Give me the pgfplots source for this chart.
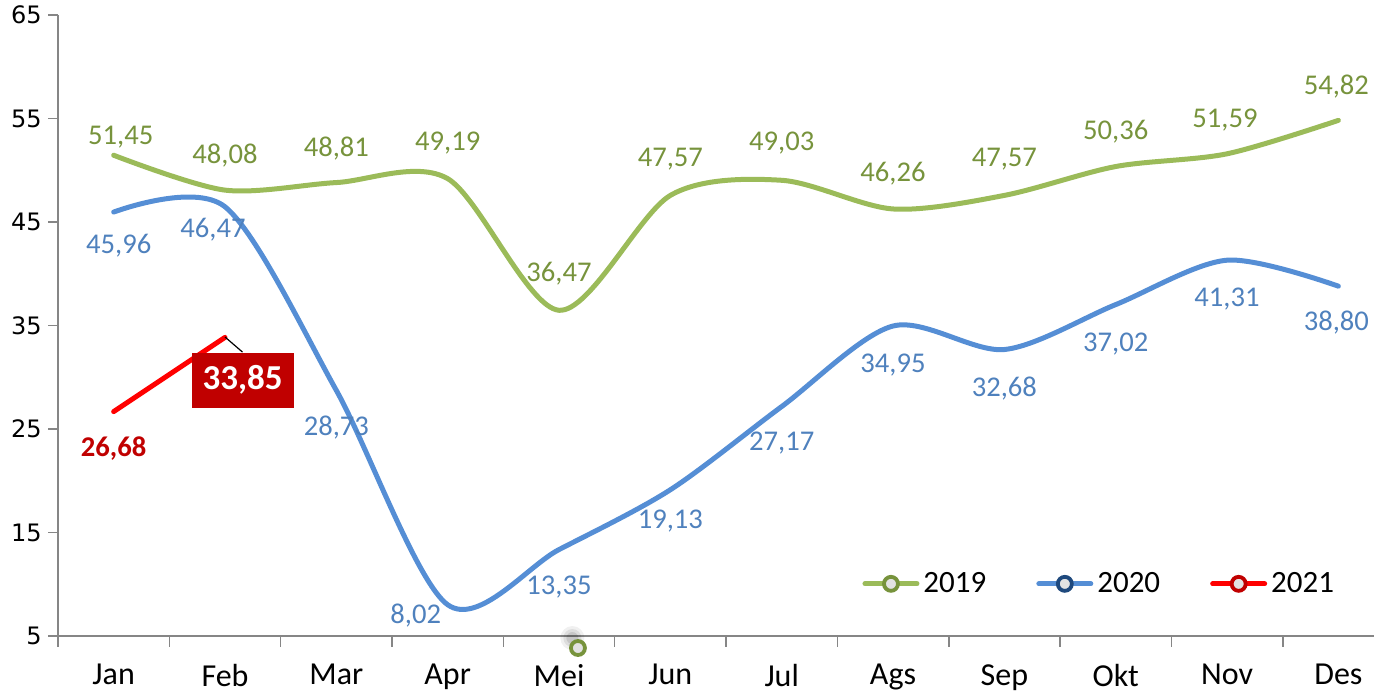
\documentclass[border=0pt]{standalone}
\usepackage{pgfplots}
\pgfplotsset{compat=1.18}
\usepackage{pgfplotstable}
\usepackage{fontspec}
\setmainfont{Carlito}
\newfontfamily\tickfont{DejaVu Sans}

\definecolor{grn}{HTML}{9BBB59}
\definecolor{grnd}{HTML}{77933C}
\definecolor{blu}{HTML}{558ED5}
\definecolor{blud}{HTML}{4F81BD}
\definecolor{bluk}{HTML}{1F497D}
\definecolor{redd}{HTML}{C00000}
\definecolor{axgray}{HTML}{868686}
\definecolor{mkfill}{HTML}{E2E2E2}

% month index, value, label offset (pt)
\pgfplotstableread{
x y dx dy
0 51.45 3.5 9.1
1 48.08 0 17.5
2 48.81 0 16.8
3 49.19 0 17.8
4 36.47 0 18.2
5 47.57 0 18.2
6 49.03 0 18.6
7 46.26 0 17.5
8 47.57 0 18.2
9 50.36 0 17.2
10 51.59 -1 17
11 54.82 -1 16.7
}\dataA
\pgfplotstableread{
x y dx dy
0 45.96 2.5 -17
1 46.47 -6 -11.6
2 28.73 0 -18.8
3 8.02 -16 -5.2
4 13.35 0 -18.7
5 19.13 0 -15.6
6 27.17 0 -18.3
7 34.95 0 -19.5
8 32.68 0 -19.3
9 37.02 0 -19.7
10 41.31 0 -19.4
11 38.80 -1 -18.4
}\dataB
\pgfplotstableread{
x y dx dy
0 26.68 0 -18.7
1 33.85 8.75 -21.3
}\dataC

\pgfplotsset{
  lbl/.style={
    point meta=explicit,
    nodes near coords={\pgfmathprintnumber[fixed,fixed zerofill,precision=2,use comma]{\pgfplotspointmeta}},
    visualization depends on={\thisrow{dx}\as\lx},
    visualization depends on={\thisrow{dy}\as\ly},
    every node near coord/.append style={anchor=center, xshift=\lx pt, yshift=\ly pt,
      font=\fontsize{14.3}{16}\selectfont, text=#1}},
  lgimg/.style 2 args={legend image code/.code={
      \draw[#1, line width=2.5pt, line cap=round] (0pt,0pt) -- (26pt,0pt);
      \draw[#2, line width=1.9pt, fill=mkfill] (13pt,0pt) circle (3.5pt);}},
}

\begin{document}
\begin{tikzpicture}
\path[use as bounding box] (-29pt,-29pt) rectangle (658pt,318pt);
\begin{axis}[
  at={(0,0)}, anchor=south west,
  width=658pt, height=310.5pt, scale only axis,
  xmin=-0.5, xmax=11.32, ymin=5, ymax=65,
  axis lines*=left,
  axis line style={axgray, line width=0.8pt},
  clip=false,
  xtick={0,...,11},
  xticklabels={Jan,Feb,Mar,Apr,Mei,Jun,Jul,Ags,Sep,Okt,Nov,Des},
  minor xtick={-0.5,0.5,...,10.5},
  ytick={5,15,...,65},
  tick align=outside,
  major tick length=5pt, minor tick length=5.5pt,
  major x tick style={draw=none},
  minor x tick style={axgray, line width=0.8pt},
  major y tick style={axgray, line width=0.8pt},
  /pgf/number format/assume math mode=true,
  xticklabel style={font=\fontsize{16}{19}\selectfont, inner sep=0pt, yshift=-9pt},
  yticklabel style={font=\tickfont\fontsize{12}{14}\selectfont, inner sep=0pt, xshift=-3pt},
  legend style={draw=none, fill=none, at={(0.611,0.084)}, anchor=west,
    legend columns=3, font=\fontsize{15.5}{18}\selectfont, inner sep=0pt,
    /tikz/every even column/.append style={column sep=23pt}},
]
\addplot[grn, line width=2.5pt, smooth, line cap=round, lgimg={grn}{grnd},
  lbl=grnd] table[x=x, y=y, meta=y] {\dataA};
\addlegendentry{2019}
\addplot[blu, line width=2.5pt, smooth, line cap=round, lgimg={blu}{bluk},
  lbl=blud] table[x=x, y=y, meta=y] {\dataB};
\addlegendentry{2020}
\addplot[red, line width=2.5pt, line cap=round, lgimg={red}{redd}]
  table[x=x, y=y] {\dataC};
\addlegendentry{2021}
% 2021 labels
\addplot[draw=none, forget plot, point meta=explicit,
  nodes near coords={\pgfmathprintnumber[fixed,fixed zerofill,precision=2,use comma]{\pgfplotspointmeta}},
  every node near coord/.append style={anchor=center, yshift=-18.7pt,
    font=\bfseries\fontsize{14.3}{16}\selectfont, text=redd}]
  table[x=x, y=y, meta=y] {
x y
0 26.68
};
\addplot[draw=none, forget plot, point meta=explicit,
  nodes near coords={\pgfmathprintnumber[fixed,fixed zerofill,precision=2,use comma]{\pgfplotspointmeta}},
  every node near coord/.append style={anchor=center, xshift=8.75pt, yshift=-21.3pt,
    fill=redd, text=white, font=\bfseries\fontsize{17.5}{20}\selectfont,
    minimum width=51pt, minimum height=27.5pt, inner sep=0pt,
    append after command={(\tikzlastnode.north) edge[black, line width=0.6pt] ++(-8.75pt,7.55pt)}}]
  table[x=x, y=y, meta=y] {
x y
1 33.85
};
% stray marker below the axis, with a soft shadow
\addplot[only marks, forget plot, mark=*, mark size=6pt,
  mark options={fill=black, draw opacity=0, fill opacity=0.06}] coordinates {(4.12,4.8)};
\addplot[only marks, forget plot, mark=*, mark size=4.5pt,
  mark options={fill=black, draw opacity=0, fill opacity=0.08}] coordinates {(4.12,4.8)};
\addplot[only marks, forget plot, mark=*, mark size=3pt,
  mark options={fill=black, draw opacity=0, fill opacity=0.1}] coordinates {(4.12,4.8)};
\addplot[only marks, forget plot, mark=*, mark size=3.5pt,
  mark options={draw=grnd, fill=mkfill, line width=1.9pt}] coordinates {(4.17,3.84)};
\end{axis}
\end{tikzpicture}
\end{document}
